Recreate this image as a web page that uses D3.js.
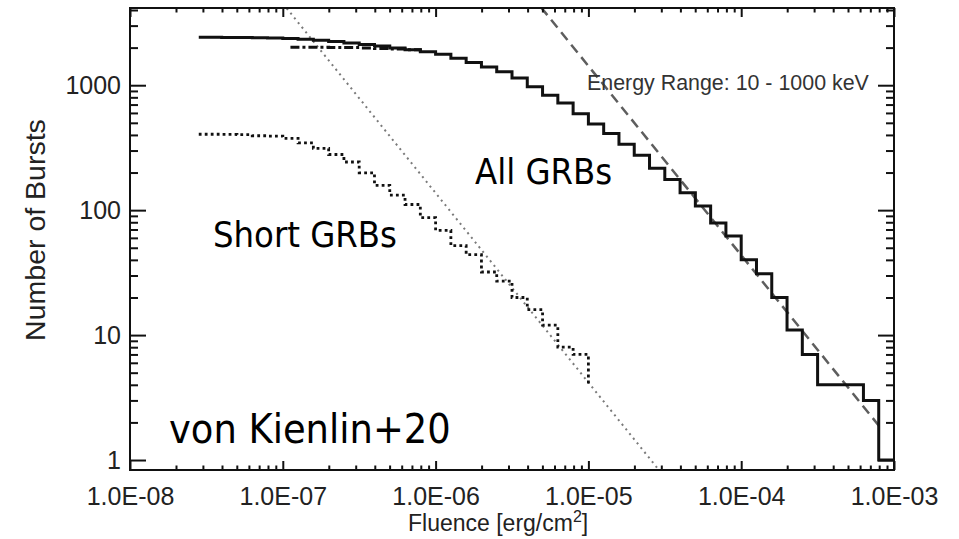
<!DOCTYPE html>
<html><head><meta charset="utf-8">
<script src="https://cdn.jsdelivr.net/npm/d3@7"></script>
<style>
html,body{margin:0;padding:0;background:#fff;}
svg{display:block;}
</style></head>
<body>
<svg id="chart" width="959" height="539"></svg>
<script>
// Cumulative counts N(>F); each count holds from its log-fluence edge to the next edge.
const allLogF = [-7.55,-7.5,-7.4,-7.3,-7.2,-7.1,-7.0,-6.9,-6.8,-6.7,-6.6,-6.5,-6.4,-6.3,-6.2,-6.1,-6.0,-5.9,-5.8,-5.7,-5.6,-5.5,-5.4,-5.3,-5.2,-5.1,-5.0,-4.9,-4.8,-4.7,-4.6,-4.5,-4.4,-4.3,-4.2,-4.1,-4.0,-3.9,-3.8,-3.7,-3.6,-3.5,-3.4,-3.3,-3.2,-3.1,-3.0];
const allN    = [2420,2420,2415,2410,2400,2390,2370,2330,2290,2240,2180,2120,2060,1990,1920,1850,1770,1640,1520,1400,1280,1140,970,832,722,590,490,410,337,275,216,176,138,108,79,62,40,31,20,11,7,4,4,4,3,1,1];

const altLogF = [-6.95,-6.9,-6.8,-6.7,-6.6,-6.5,-6.4,-6.3,-6.2,-6.1];
const altN    = [2010,2010,2010,2005,2000,1990,1970,1950,1920,1850];

const shortLogF = [-7.55,-7.5,-7.4,-7.3,-7.2,-7.1,-7.0,-6.9,-6.8,-6.7,-6.6,-6.5,-6.4,-6.3,-6.2,-6.1,-6.0,-5.9,-5.8,-5.7,-5.6,-5.5,-5.4,-5.3,-5.2,-5.1,-5.0];
const shortN    = [405,405,404,402,394,392,375,345,312,279,243,199,158,132,111,87,69,52,44,32,27,20,16,12,8,7,4];

// Euclidean N ~ F^-3/2 reference lines (end points)
const dottedRefF = [1.06e-7, 2.9e-5];
const dottedRefN = [4130, 0.83];
const dashedRefF = [4.9e-6, 8.45e-4];
const dashedRefN = [4200, 1.72];

const xTickValues = [1e-8,1e-7,1e-6,1e-5,1e-4,1e-3];
const xTickLabels = ["1.0E-08","1.0E-07","1.0E-06","1.0E-05","1.0E-04","1.0E-03"];
const yTickValues = [1,10,100,1000];
const yTickLabels = ["1","10","100","1000"];

const W = 959, H = 539;
const padL = 130, padR = 894, padT = 8, padB = 470;

const svg = d3.select("#chart");
const x = d3.scaleLog().domain([1e-8, 1e-3]).range([padL, padR]);
const y = d3.scaleLog().domain([0.832, 4150]).range([padB, padT]);

// minor tick positions: 2..9 within each decade
const xMinor = [];
for (let d = -8; d < -3; d++) for (let k = 2; k <= 9; k++) xMinor.push(k * Math.pow(10, d));
const yMinor = [];
for (let d = 0; d < 4; d++) for (let k = 2; k <= 9; k++) { const v = k * Math.pow(10, d); if (v < 4150) yMinor.push(v); }

svg.append("defs").append("clipPath").attr("id", "plotClip")
  .append("rect").attr("x", padL).attr("y", padT).attr("width", padR - padL).attr("height", padB - padT);

const plot = svg.append("g").attr("clip-path", "url(#plotClip)");

const refLine = d3.line().x(d => x(d[0])).y(d => y(d[1]));
plot.append("path")
  .attr("d", refLine(dottedRefF.map((f, i) => [f, dottedRefN[i]])))
  .attr("fill", "none").attr("stroke", "#7a7a7a").attr("stroke-width", 2)
  .attr("stroke-dasharray", "2,4");
plot.append("path")
  .attr("d", refLine(dashedRefF.map((f, i) => [f, dashedRefN[i]])))
  .attr("fill", "none").attr("stroke", "#5e5e5e").attr("stroke-width", 2.5)
  .attr("stroke-dasharray", "10,6");

const stepLine = d3.line().x(d => x(Math.pow(10, d[0]))).y(d => y(d[1])).curve(d3.curveStepAfter);

plot.append("path")
  .attr("d", stepLine(shortLogF.map((f, i) => [f, shortN[i]])))
  .attr("fill", "none").attr("stroke", "#111").attr("stroke-width", 2.8)
  .attr("stroke-dasharray", "2.8,3.2");
plot.append("path")
  .attr("d", stepLine(altLogF.map((f, i) => [f, altN[i]])))
  .attr("fill", "none").attr("stroke", "#111").attr("stroke-width", 3)
  .attr("stroke-dasharray", "9,3,3,3");
plot.append("path")
  .attr("d", stepLine(allLogF.map((f, i) => [f, allN[i]])))
  .attr("fill", "none").attr("stroke", "#111").attr("stroke-width", 3);

// axes: ticks point inward
const tickFont = "'Liberation Sans', Arial, sans-serif";
function styleAxis(g) {
  g.select(".domain").remove();
  g.selectAll(".tick line").attr("stroke", "#111").attr("stroke-width", 2);
  g.selectAll(".tick text").attr("fill", "#222").style("font-family", tickFont).style("font-size", "25px");
}
svg.append("g").attr("transform", `translate(0,${padB})`)
  .call(d3.axisBottom(x).tickValues(xTickValues).tickFormat((d, i) => xTickLabels[i]).tickSize(-9).tickPadding(17)).call(styleAxis);
svg.append("g").attr("transform", `translate(0,${padB})`)
  .call(d3.axisBottom(x).tickValues(xMinor).tickFormat("").tickSize(-4.5)).call(styleAxis);
svg.append("g").attr("transform", `translate(0,${padT})`)
  .call(d3.axisTop(x).tickValues(xTickValues).tickFormat("").tickSize(-9)).call(styleAxis);
svg.append("g").attr("transform", `translate(0,${padT})`)
  .call(d3.axisTop(x).tickValues(xMinor).tickFormat("").tickSize(-4.5)).call(styleAxis);
svg.append("g").attr("transform", `translate(${padL},0)`)
  .call(d3.axisLeft(y).tickValues(yTickValues).tickFormat((d, i) => yTickLabels[i]).tickSize(-16).tickPadding(9)).call(styleAxis);
svg.append("g").attr("transform", `translate(${padL},0)`)
  .call(d3.axisLeft(y).tickValues(yMinor).tickFormat("").tickSize(-8)).call(styleAxis);
svg.append("g").attr("transform", `translate(${padR},0)`)
  .call(d3.axisRight(y).tickValues(yTickValues).tickFormat("").tickSize(-16)).call(styleAxis);
svg.append("g").attr("transform", `translate(${padR},0)`)
  .call(d3.axisRight(y).tickValues(yMinor).tickFormat("").tickSize(-8)).call(styleAxis);

svg.append("rect").attr("x", padL).attr("y", padT).attr("width", padR - padL).attr("height", padB - padT)
  .attr("fill", "none").attr("stroke", "#111").attr("stroke-width", 2);

// axis titles
svg.append("text").attr("transform", "translate(45,230) rotate(-90)")
  .attr("text-anchor", "middle").attr("fill", "#222")
  .style("font-family", tickFont).style("font-size", "28.5px").text("Number of Bursts");
const xt = svg.append("text").attr("x", 408).attr("y", 531).attr("fill", "#222")
  .style("font-family", tickFont).style("font-size", "23px");
xt.append("tspan").text("Fluence [erg/cm");
xt.append("tspan").attr("dy", -9).style("font-size", "16px").text("2");
xt.append("tspan").attr("dy", 9).text("]");

svg.append("text").attr("x", 587).attr("y", 90).attr("fill", "#333")
  .style("font-family", tickFont).style("font-size", "21.4px").text("Energy Range: 10 - 1000 keV");

// curve annotations
const noteFont = "'DejaVu Sans Condensed', 'DejaVu Sans', sans-serif";
svg.append("text").attr("x", 475).attr("y", 184).attr("fill", "#000")
  .style("font-family", noteFont).style("font-stretch", "condensed").style("font-size", "36px").text("All GRBs");
svg.append("text").attr("x", 213).attr("y", 247).attr("fill", "#000")
  .style("font-family", noteFont).style("font-stretch", "condensed").style("font-size", "36px").text("Short GRBs");
svg.append("text").attr("x", 169).attr("y", 443).attr("fill", "#000")
  .style("font-family", noteFont).style("font-stretch", "condensed").style("font-size", "41px").text("von Kienlin+20");
</script>
</body></html>
